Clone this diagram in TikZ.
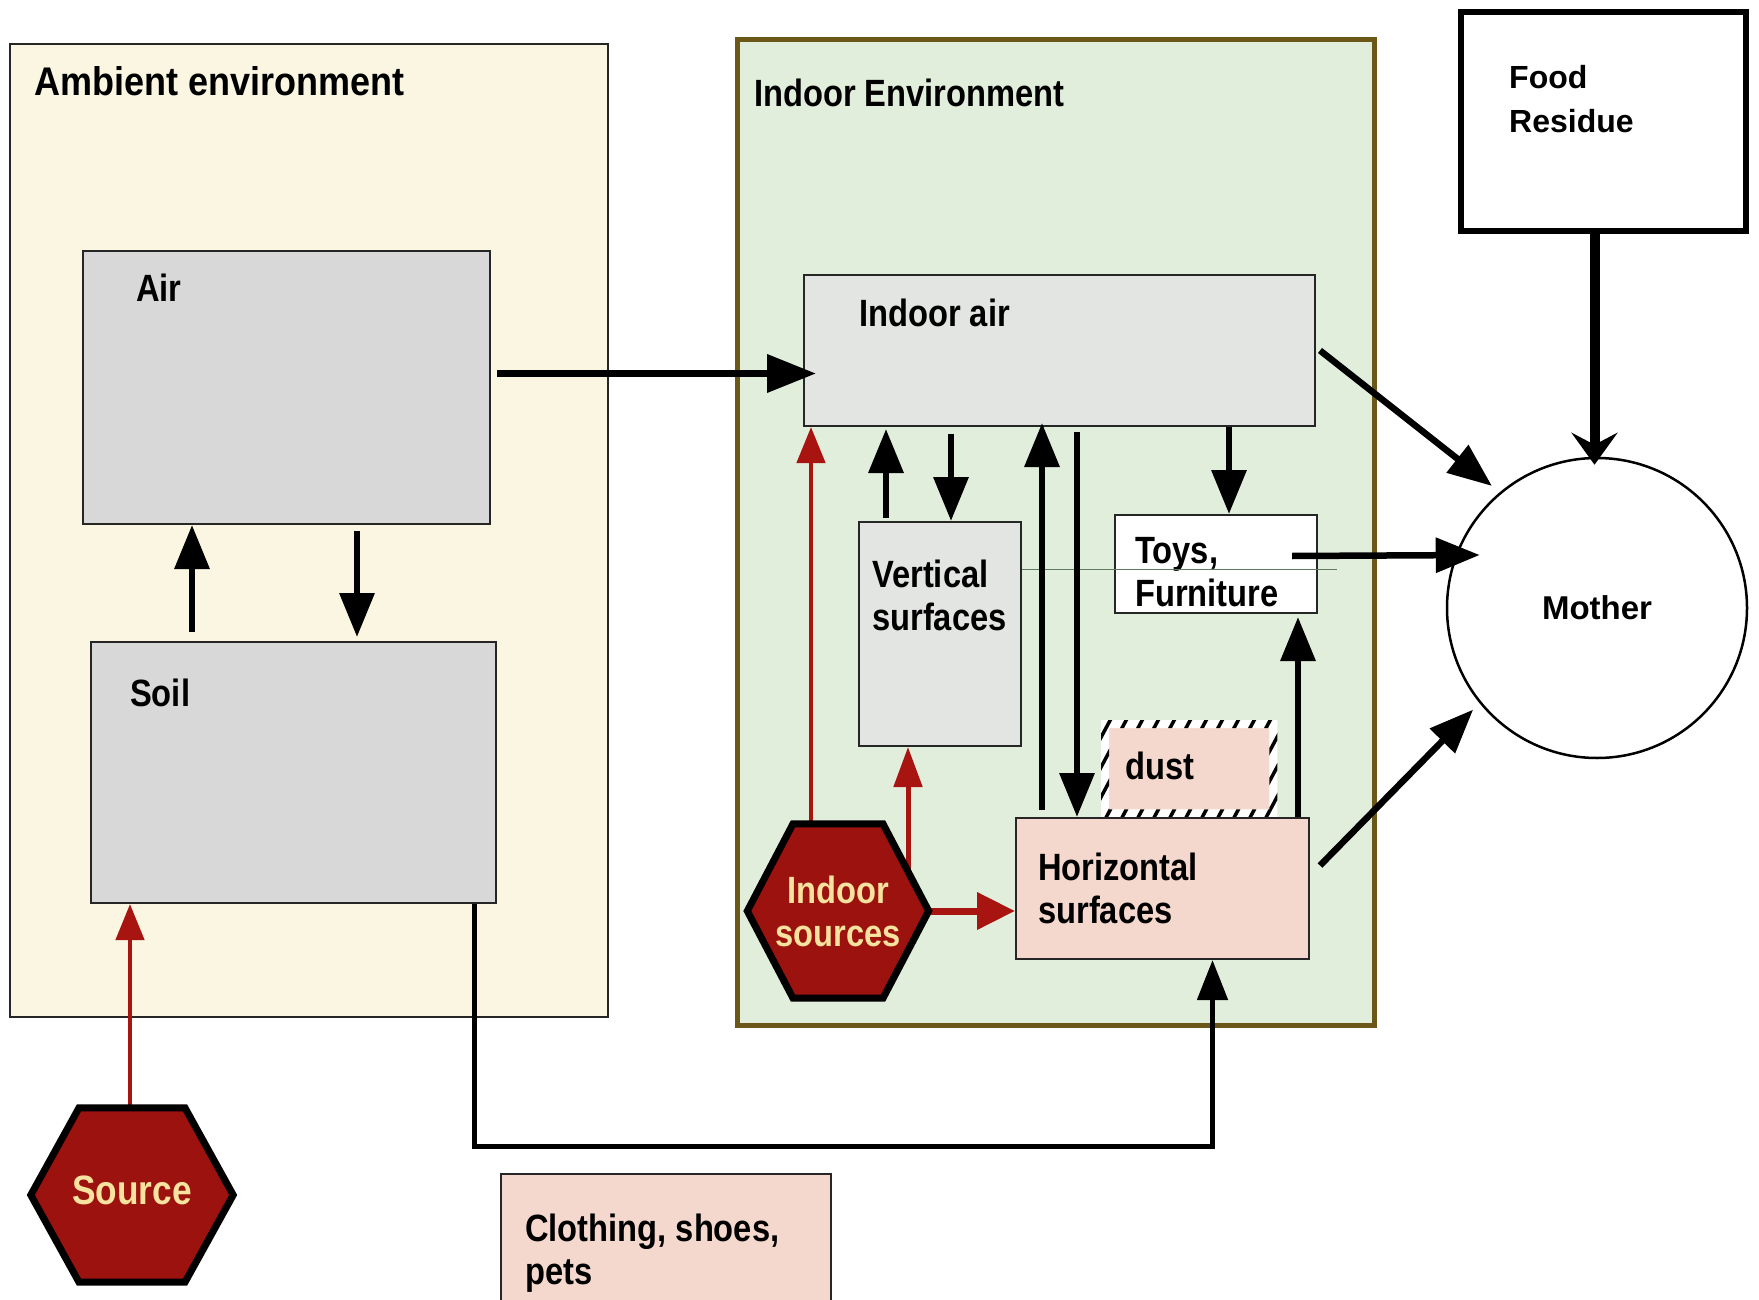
\documentclass[tikz,border=0pt]{standalone}
\usepackage{fontspec}
\usetikzlibrary{arrows.meta,calc}
\newfontfamily\nlab{Liberation Sans}[FakeStretch=0.86]
\newfontfamily\mlab{Liberation Sans}[FakeStretch=0.9]
\newfontfamily\wlab{Liberation Sans}
\definecolor{ambfill}{HTML}{FAF6E2}
\definecolor{indfill}{HTML}{E2EEDC}
\definecolor{indedge}{HTML}{6B5818}
\definecolor{graybox}{HTML}{D8D8D8}
\definecolor{airbox}{HTML}{E3E5E3}
\definecolor{pinkbox}{HTML}{F5D8CD}
\definecolor{hexred}{HTML}{9C120E}
\definecolor{hextext}{HTML}{F8E2A0}
\definecolor{redarrow}{HTML}{A8140F}
\definecolor{thinline}{HTML}{5F7A60}
\begin{document}
\begin{tikzpicture}[x=1pt,y=-1pt,
  box/.style={draw=black!85, line width=2pt, anchor=north west, inner sep=0pt},
  dustbox/.style={fill=pinkbox, anchor=north west, inner sep=0pt},
  lbl/.style={font=\nlab\bfseries\fontsize{38}{43}\selectfont, inner sep=0pt, anchor=base west, align=left},
  wlbl/.style={font=\wlab\bfseries\fontsize{32}{44}\selectfont, inner sep=0pt, anchor=base west, align=left},
  hexlbl/.style={font=\nlab\bfseries\fontsize{38}{43}\selectfont, text=hextext, inner sep=0pt, align=center},
  hexshape/.style={fill=hexred, draw=black, line width=7pt, line join=miter},
  blk/.style={draw=black, line width=6.5pt, -{Triangle[length=44pt,width=34pt]}},
  conn/.style={draw=black, line width=5pt, -{Triangle[length=40pt,width=30pt]}},
  foodarr/.style={draw=black, line width=10pt, -{Stealth[length=32pt,width=46pt,inset=12pt]}},
  redarr/.style={draw=redarrow, line width=4.5pt, -{Triangle[length=36pt,width=28pt]}},
]
\clip (0,0) rectangle (1759,1300);
\fill[white] (0,0) rectangle (1759,1300);

% compartments
\node[box, fill=ambfill, minimum width=598pt, minimum height=973pt] (amb) at (9,43) {};
\node[box, fill=indfill, draw=indedge, line width=5pt, minimum width=637pt, minimum height=986pt] (ind) at (735,37) {};
\node[box, fill=graybox, minimum width=407pt, minimum height=273pt] (air) at (82,250) {};
\node[box, fill=graybox, minimum width=405pt, minimum height=261pt] (soil) at (90,641) {};
\node[box, fill=airbox, minimum width=511pt, minimum height=151pt] (iair) at (803,274) {};
\node[box, fill=airbox, minimum width=162pt, minimum height=224pt] (vert) at (858,521) {};
\node[box, fill=white, minimum width=202pt, minimum height=98pt] (toys) at (1114,514) {};
\node[dustbox, minimum width=168pt, minimum height=89pt] (dust) at (1105,724) {};
% hatched border of the dust box
\begin{scope}[even odd rule]
  \clip ($(dust.north west)+(-4,-4)$) rectangle ($(dust.south east)+(4,4)$)
        ($(dust.north west)+(4,4)$) rectangle ($(dust.south east)+(-4,-4)$);
  \fill[white] ($(dust.north west)+(-6,-6)$) rectangle ($(dust.south east)+(6,6)$);
  \foreach \k in {0,...,18}
    \draw[black, line width=3.5pt] (1030+16*\k,840) -- ++(75,-140);
\end{scope}
\node[box, fill=pinkbox, minimum width=293pt, minimum height=141pt] (horiz) at (1015,817) {};
\node[box, fill=pinkbox, minimum width=330pt, minimum height=160pt] (cloth) at (500,1173) {};
\node[box, fill=white, draw=black, line width=6pt, minimum width=285pt, minimum height=219pt] (food) at (1458,9) {};
\node[circle, draw=black, line width=2.5pt, minimum size=300pt, inner sep=0pt,
      font=\wlab\bfseries\fontsize{33}{43}\selectfont] (mother) at (1597,608) {Mother};

% labels (multi-line labels are placed by the baseline of their last line)
\node[lbl, font=\mlab\bfseries\fontsize{40}{43}\selectfont] (t-amb) at (34,96) {Ambient environment};
\node[lbl] (t-air) at (136,301) {Air};
\node[lbl] (t-soil) at (130,706) {Soil};
\node[lbl] (t-ind) at (754,107) {Indoor Environment};
\node[lbl] (t-iair) at (859,326) {Indoor air};
\node[lbl] (t-vert) at (872,630) {Vertical\\surfaces};
\node[lbl] (t-toys) at (1135,606) {Toys,\\Furniture};
\node[lbl] (t-dust) at (1125,779) {dust};
\node[lbl] (t-horiz) at (1038,923) {Horizontal\\surfaces};
\node[lbl] (t-cloth) at (525,1284) {Clothing, shoes,\\pets};
\node[wlbl] (t-food) at (1509,133) {Food\\Residue};

% thin rule through the furniture box
\draw[thinline, line width=1pt] (vert.east |- 0,569) -- (1337,569);

% hexagon anchors
\node[inner sep=0pt, minimum width=181pt, minimum height=174pt] (isrc) at (838,911) {};
\node[inner sep=0pt, minimum width=202pt, minimum height=174pt] (src) at (132,1195) {};

% red source flows
\draw[redarr] (811,0 |- isrc.north) -- (811,0 |- iair.south);
\draw[redarr, line width=5pt, -{Triangle[length=40pt,width=28pt]}] (908,0 |- isrc.center) -- (908,0 |- vert.south);
\draw[redarr, line width=7pt, -{Triangle[length=38pt,width=36pt]}] (isrc.center) -- (isrc.center -| horiz.west);
\draw[redarr] (130,0 |- src.center) -- (130,0 |- soil.south);

% hexagons
\filldraw[hexshape] ($(isrc.north)+(-45,0)$) -- ($(isrc.north)+(45,0)$) -- (isrc.east)
  -- ($(isrc.south)+(45,0)$) -- ($(isrc.south)+(-45,0)$) -- (isrc.west) -- cycle;
\node[hexlbl] (t-isrc) at (isrc.center) {Indoor\\sources};
\filldraw[hexshape] ($(src.north)+(-53,0)$) -- ($(src.north)+(53,0)$) -- (src.east)
  -- ($(src.south)+(53,0)$) -- ($(src.south)+(-53,0)$) -- (src.west) -- cycle;
\node[hexlbl, font=\nlab\bfseries\fontsize{41}{43}\selectfont] (t-src) at ([yshift=5pt]src.center) {Source};

% exchanges between compartments
\draw[blk, shorten <=9pt] (192,0 |- soil.north) -- (192,0 |- air.south);
\draw[blk, shorten <=6pt, shorten >=4pt] (357,0 |- air.south) -- (357,0 |- soil.north);
\coordinate (airout) at ([xshift=6pt,yshift=14pt]air.east);
\draw[blk, line width=7pt, -{Triangle[length=49pt,width=37pt]}, shorten >=-13pt] (airout) -- (airout -| iair.west);
\draw[blk, shorten <=7pt] (951,0 |- iair.south) -- (951,0 |- vert.north);
\draw[blk, shorten <=3pt, shorten >=2pt] (886,0 |- vert.north) -- (886,0 |- iair.south);
\draw[blk, shorten <=7pt, shorten >=-4pt] (1042,0 |- horiz.north) -- (1042,0 |- iair.south);
\draw[blk, shorten <=5pt] (1077,0 |- iair.south) -- (1077,0 |- horiz.north);
\draw[blk] (1229,0 |- iair.south) -- (1229,0 |- toys.north);
\draw[blk, shorten >=3pt] (1298,0 |- horiz.north) -- (1298,0 |- toys.south);
\draw[conn] ([xshift=-23pt]soil.south east) -- ++(0,242) -| ([xshift=50pt]horiz.south);

% exposure routes to the mother
\draw[blk, shorten >=10pt] ([xshift=4pt]iair.east) -- (mother.130);
\draw[blk] ([xshift=-26pt,yshift=8pt]toys.east) -- ([xshift=34pt,yshift=53pt]mother.west);
\draw[blk, shorten >=9pt] ([xshift=10pt,yshift=23pt]horiz.east) -- (mother.219);
\draw[foodarr, shorten >=-8pt] ([xshift=-9pt]food.south) -- ([xshift=-9pt]food.south |- mother.north);
\end{tikzpicture}
\end{document}
